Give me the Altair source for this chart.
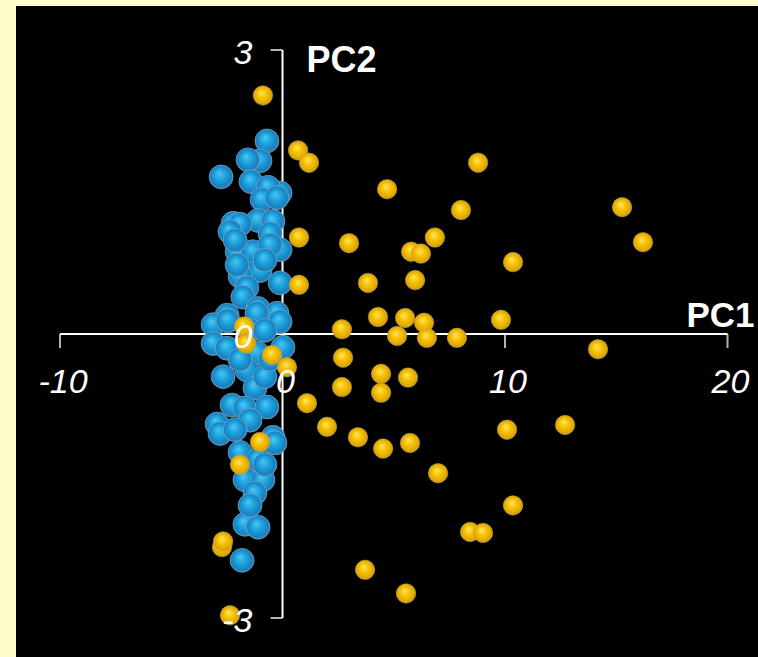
import altair as alt
import pandas as pd

# ---- data (PC1, PC2 scores) ----
gold_pc1 = [-0.88, 0.70, 1.19, 8.79, 4.70, 15.26, 8.02, 6.85, 16.20, 0.74,
            2.99, 5.78, 6.22, 10.36, 5.96, 3.84, 0.74, 4.29, 5.51, 6.36,
            2.67, 9.82, 5.15, 6.49, 7.84, 14.18, -1.73, -1.64, -0.47, 0.20,
            2.72, 4.43, 5.64, 2.67, 4.43, 1.10, 2.00, 3.39, 4.52, 5.73,
            10.09, 12.70, 6.99, 10.36, 8.43, 9.01, 3.71, 5.55, -1.01, -1.91,
            -2.72, -2.67, -2.36]
gold_pc2 = [2.52, 1.94, 1.81, 1.81, 1.53, 1.34, 1.31, 1.02, 0.97, 1.02,
            0.96, 0.87, 0.85, 0.76, 0.57, 0.54, 0.52, 0.18, 0.17, 0.12,
            0.05, 0.15, -0.02, -0.04, -0.04, -0.16, 0.08, -0.10, -0.22, -0.35,
            -0.25, -0.42, -0.46, -0.56, -0.62, -0.73, -0.98, -1.09, -1.21, -1.15,
            -1.01, -0.96, -1.47, -1.81, -2.09, -2.10, -2.49, -2.74, -1.14, -1.38,
            -2.25, -2.19, -2.97]

blue_pc1 = [-0.70, -1.01, -1.55, -2.76, -1.42, -0.11, -0.65, -0.92, -0.25, -2.22,
            -1.10, -0.43, -1.91, -2.04, -1.33, -0.56, -0.11, -0.56, -1.01, -1.91,
            -0.11, -1.60, -1.78, -1.10, -2.49, -3.12, -0.25, -2.45, -1.15, -0.11,
            -3.12, -2.49, 0.02, -1.15, -2.67, -1.60, -1.24, -0.79, -2.27, -1.69,
            -0.70, -2.94, -0.43, -2.81, -0.34, -1.91, -1.69, -0.88, -1.24, -1.69,
            -1.10, -1.82, -2.36, -2.04,
            -2.13, -0.79, -1.46, -0.79, -1.91, -0.56, -1.46, -2.13, -1.10, -1.46,
            -0.79]
blue_pc2 = [2.04, 1.83, 1.84, 1.66, 1.61, 1.49, 1.55, 1.42, 1.44, 1.17,
            1.20, 1.19, 1.16, 0.87, 0.87, 1.06, 0.89, 0.94, 0.67, 0.61,
            0.54, 0.49, 0.39, 0.27, 0.20, 0.10, 0.22, 0.14, 0.22, 0.13,
            -0.10, -0.15, -0.14, -0.20, -0.45, -0.38, -0.57, -0.45, -0.75, -0.78,
            -0.77, -0.95, -1.09, -1.05, -1.15, -1.25, -1.54, -1.54, -1.68, -2.01,
            -2.04, -2.39, 1.08, 0.73,
            0.99, 0.78, 0.04, 0.04, -0.27, -0.27, -0.91, -1.01, -1.33, -1.81,
            -1.38]

x_ticks = [-10, 0, 10, 20]
y_ticks = [-3, 0, 3]
x_title = "PC1"
y_title = "PC2"

# ---- tables ----
gold = pd.DataFrame({"pc1": gold_pc1, "pc2": gold_pc2})
blue = pd.DataFrame({"pc1": blue_pc1, "pc2": blue_pc2})
xt = pd.DataFrame({"pc1": x_ticks, "pc2": [0] * len(x_ticks), "lab": [str(v) for v in x_ticks]})
yt = pd.DataFrame({"pc1": [0] * len(y_ticks), "pc2": y_ticks, "lab": [str(v) for v in y_ticks]})
xline = pd.DataFrame({"pc1": [min(x_ticks)], "pc1b": [max(x_ticks)], "pc2": [0]})
yline = pd.DataFrame({"pc1": [0], "pc2": [min(y_ticks)], "pc2b": [max(y_ticks)]})
titles_x = pd.DataFrame({"pc1": [max(x_ticks)], "pc2": [0], "lab": [x_title]})
titles_y = pd.DataFrame({"pc1": [0], "pc2": [max(y_ticks)], "lab": [y_title]})

xs = alt.Scale(domain=[-11.978, 21.37], nice=False, zero=False)
ys = alt.Scale(domain=[-3.411, 3.465], nice=False, zero=False)
X = alt.X("pc1:Q", scale=xs, axis=None)
Y = alt.Y("pc2:Q", scale=ys, axis=None)

FONT = "Liberation Sans"

gold_grad = alt.Gradient(
    gradient="radial",
    stops=[alt.GradientStop(color="#FFE866", offset=0),
           alt.GradientStop(color="#F6C000", offset=0.45),
           alt.GradientStop(color="#E0A800", offset=0.8),
           alt.GradientStop(color="#B08A30", offset=1)],
    x1=0.42, y1=0.35, r1=0, x2=0.5, y2=0.5, r2=0.55)
blue_grad = alt.Gradient(
    gradient="radial",
    stops=[alt.GradientStop(color="#4CC8F4", offset=0),
           alt.GradientStop(color="#1CA0DC", offset=0.45),
           alt.GradientStop(color="#1680C0", offset=0.8),
           alt.GradientStop(color="#5A8CB0", offset=1)],
    x1=0.42, y1=0.35, r1=0, x2=0.5, y2=0.5, r2=0.55)

axis_x = alt.Chart(xline).mark_rule(color="white", strokeWidth=2).encode(
    x=X, x2="pc1b:Q", y=Y)
axis_y = alt.Chart(yline).mark_rule(color="white", strokeWidth=2).encode(
    x=X, y=Y, y2="pc2b:Q")
ticks_x = alt.Chart(xt).mark_tick(color="white", orient="vertical", size=14,
                                  thickness=2, yOffset=7).encode(x=X, y=Y)
ticks_y = alt.Chart(yt).mark_tick(color="white", orient="horizontal", size=12,
                                  thickness=2, xOffset=-6).encode(x=X, y=Y)

blue_pts = alt.Chart(blue).mark_circle(
    fill=blue_grad, opacity=1, size=570, stroke="#7FA6C4",
    strokeWidth=1, strokeOpacity=0.7).encode(x=X, y=Y)
gold_pts = alt.Chart(gold).mark_circle(
    fill=gold_grad, opacity=1, size=380, stroke="#C8B070",
    strokeWidth=0.8, strokeOpacity=0.6).encode(x=X, y=Y)

lab_x = alt.Chart(xt).mark_text(
    font=FONT, fontSize=34, fontStyle="italic", color="white",
    align="center", baseline="alphabetic", dx=3, dy=59).encode(x=X, y=Y, text="lab:N")
lab_y = alt.Chart(yt).mark_text(
    font=FONT, fontSize=34, fontStyle="italic", color="white",
    align="right", baseline="alphabetic", dx=-30, dy=14).encode(x=X, y=Y, text="lab:N")
t_x = alt.Chart(titles_x).mark_text(
    font=FONT, fontSize=35, fontWeight="bold", color="white",
    align="right", baseline="alphabetic", dx=27, dy=-7).encode(x=X, y=Y, text="lab:N")
t_y = alt.Chart(titles_y).mark_text(
    font=FONT, fontSize=36, fontWeight="bold", color="white",
    align="left", baseline="alphabetic", dx=24, dy=22).encode(x=X, y=Y, text="lab:N")

chart = alt.layer(
    axis_x, axis_y, ticks_x, ticks_y, blue_pts, gold_pts, lab_x, lab_y, t_x, t_y
).properties(
    width=742, height=651,
    background="#FFFFCC",
    padding={"left": 16, "top": 6, "right": 0, "bottom": 0},
    autosize=alt.AutoSizeParams(type="none"),
).configure_view(fill="black", stroke=None)

chart.save("out.html", embed_options={"renderer": "svg", "actions": False})
